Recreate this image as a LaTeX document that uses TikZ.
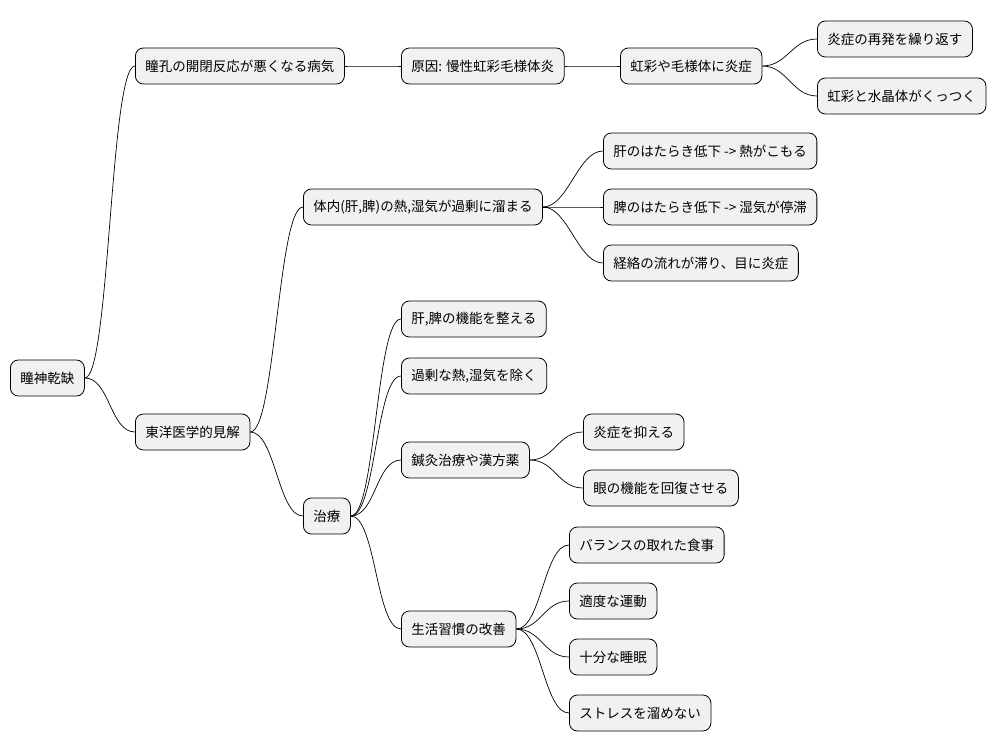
\documentclass[tikz,border=0pt]{standalone}
\usepackage{fontspec}
\setmainfont{Noto Sans CJK JP}
\begin{document}
\begin{tikzpicture}[x=1pt,y=1pt,
  mm/.style={draw=black,fill=black!5.5,rounded corners=8pt,line width=0.8pt,minimum height=36pt,inner xsep=10pt,anchor=west,font=\fontsize{13.5}{16}\selectfont},
  ln/.style={line width=0.7pt}]
\useasboundingbox (0,0) rectangle (1002,-752);
\node[mm] (r) at (10,-378) {瞳神乾缺};
\node[mm] (a) at (135,-66) {瞳孔の開閉反応が悪くなる病気};
\node[mm] (a1) at (401,-66) {原因: 慢性虹彩毛様体炎};
\node[mm] (a2) at (620,-66) {虹彩や毛様体に炎症};
\node[mm] (a3) at (817,-39) {炎症の再発を繰り返す};
\node[mm] (a4) at (817,-96) {虹彩と水晶体がくっつく};
\node[mm] (b) at (135,-432) {東洋医学的見解};
\node[mm] (b1) at (303,-207) {体内(肝,脾)の熱,湿気が過剰に溜まる};
\node[mm] (b11) at (603,-151) {肝のはたらき低下 -> 熱がこもる};
\node[mm] (b12) at (603,-207) {脾のはたらき低下 -> 湿気が停滞};
\node[mm] (b13) at (603,-263) {経絡の流れが滞り、目に炎症};
\node[mm] (c) at (303,-516) {治療};
\node[mm] (c1) at (401,-319) {肝,脾の機能を整える};
\node[mm] (c2) at (401,-376) {過剰な熱,湿気を除く};
\node[mm] (c3) at (401,-460) {鍼灸治療や漢方薬};
\node[mm] (c31) at (583,-432) {炎症を抑える};
\node[mm] (c32) at (583,-488) {眼の機能を回復させる};
\node[mm] (c4) at (401,-629) {生活習慣の改善};
\node[mm] (c41) at (569,-545) {バランスの取れた食事};
\node[mm] (c42) at (569,-601) {適度な運動};
\node[mm] (c43) at (569,-657) {十分な睡眠};
\node[mm] (c44) at (569,-713) {ストレスを溜めない};
\foreach \p/\c in {r/a,a/a1,a1/a2,a2/a3,a2/a4,r/b,b/b1,b1/b11,b1/b12,b1/b13,b/c,c/c1,c/c2,c/c3,c3/c31,c3/c32,c/c4,c4/c41,c4/c42,c4/c43,c4/c44}
  \draw[ln] (\p.east) .. controls +(25,0) and +(-25,0) .. (\c.west);
\end{tikzpicture}
\end{document}
